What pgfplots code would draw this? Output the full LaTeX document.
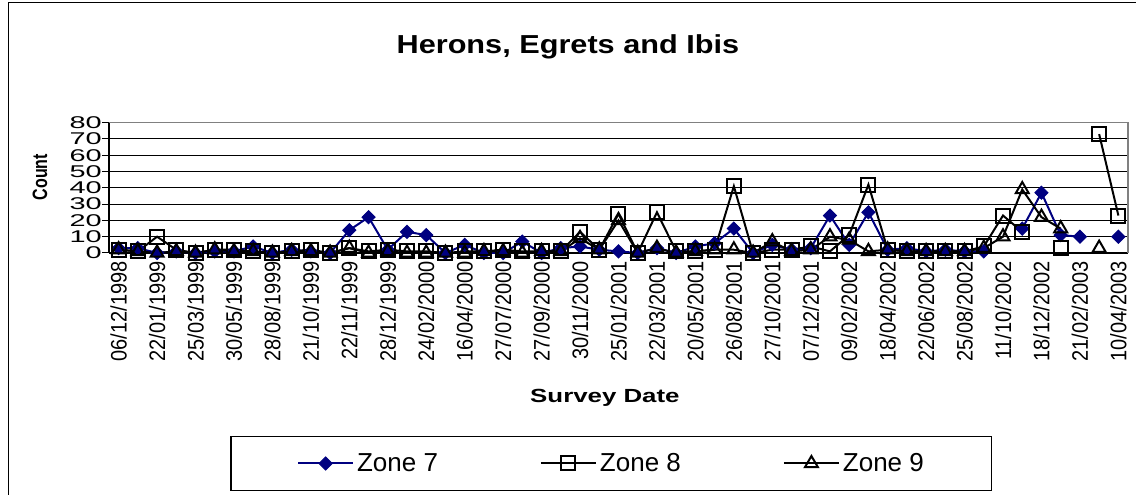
\documentclass[border=0pt]{standalone}
\usepackage{fontspec}
\setmainfont{Liberation Sans}
\usepackage{pgfplots}
\pgfplotsset{compat=1.18}
\definecolor{zoneblue}{RGB}{0,0,128}

\begin{document}
\begin{tikzpicture}
\useasboundingbox (0pt,0pt) rectangle (1136pt,495pt);
% chart area frame (cut at right and bottom in the original)
\draw[line width=1pt] (8pt,0pt) -- (8pt,492pt) -- (1136pt,492pt);
\begin{axis}[
  at={(109pt,242pt)}, anchor=south west,
  scale only axis, width=1019pt, height=130.3pt,
  xmin=-0.5, xmax=52.5, ymin=0, ymax=80,
  clip=false,
  unbounded coords=jump,
  axis x line*=bottom, axis y line*=left,
  axis line style={black, line width=1.2pt},
  tick align=outside,
  major tick length=7pt, minor tick length=7pt,
  every tick/.style={black, line width=1pt},
  ytick={0,10,...,80},
  ymajorgrids,
  major grid style={black, line width=1pt},
  xtick={0,2,...,52},
  xtick style={draw=none},
  minor xtick={-0.5,0.5,...,52.5},
  xticklabels={06/12/1998,22/01/1999,25/03/1999,30/05/1999,28/08/1999,21/10/1999,22/11/1999,28/12/1999,24/02/2000,16/04/2000,27/07/2000,27/09/2000,30/11/2000,25/01/2001,22/03/2001,20/05/2001,26/08/2001,27/10/2001,07/12/2001,09/02/2002,18/04/2002,22/06/2002,25/08/2002,11/10/2002,18/12/2002,21/02/2003,10/04/2003},
  xticklabel style={font=\fontsize{20}{20}\selectfont, rotate=90, yscale=1.12, anchor=east, inner sep=1pt},
  yticklabel style={font=\fontsize{17}{17}\selectfont, xscale=1.7, anchor=east, inner sep=0pt,
    /pgf/number format/assume math mode=true},
  title={Herons, Egrets and Ibis},
  title style={at={(axis description cs:0.4504,1.535)}, anchor=center, yshift=0pt,
    font=\bfseries\fontsize{26}{26}\selectfont, xscale=1.18},
  xlabel={Survey Date},
  xlabel style={at={(axis description cs:0.4867,-1.113)}, anchor=center,
    font=\bfseries\fontsize{19}{19}\selectfont, xscale=1.36},
  ylabel={Count},
  ylabel style={at={(axis description cs:-0.0677,0.583)}, anchor=center,
    font=\bfseries\fontsize{16}{16}\selectfont, yscale=1.3},
  legend columns=3,
  legend image code/.code={\draw[mark repeat=2,mark phase=2] plot coordinates {(0pt,0pt) (27.5pt,0pt) (55pt,0pt)};},
  legend style={at={(axis description cs:0.4931,-1.6155)}, anchor=center,
    draw=black, line width=1.2pt, font=\fontsize{26}{26}\selectfont,
    inner xsep=66pt, inner ysep=15pt,
    nodes={inner sep=2pt},
    /tikz/every odd column/.append style={column sep=1pt},
    /tikz/every even column/.append style={column sep=100pt}},
]
\addplot[color=zoneblue, line width=2pt, mark=square*, mark size=4.6pt,
  mark options={solid, rotate=45, fill=zoneblue, line width=1pt}]
  coordinates {(0,3)(1,3)(2,0)(3,1)(4,0)(5,1)(6,1)(7,4)(8,0)(9,2)(10,1)(11,0)(12,14)(13,22)(14,2)(15,13)(16,11)(17,0)(18,5)(19,0)(20,0)(21,7)(22,0)(23,3)(24,4)(25,2)(26,1)(27,0)(28,3)(29,0)(30,4)(31,6)(32,15)(33,0)(34,5)(35,2)(36,3)(37,23)(38,5)(39,25)(40,2)(41,3)(42,1)(43,2)(44,1)(45,1)(46,nan)(47,15)(48,37)(49,11)(50,10)(51,nan)(52,10)};
\addlegendentry{Zone 7}
\addplot[color=black, line width=2pt, mark=square, mark size=7pt,
  mark options={solid, line width=2pt}]
  coordinates {(0,2)(1,1)(2,10)(3,2)(4,0)(5,2)(6,2)(7,1)(8,0)(9,1)(10,2)(11,0)(12,3)(13,1)(14,2)(15,1)(16,1)(17,0)(18,1)(19,1)(20,2)(21,1)(22,1)(23,1)(24,13)(25,2)(26,24)(27,0)(28,25)(29,1)(30,1)(31,2)(32,41)(33,0)(34,2)(35,2)(36,4)(37,1)(38,11)(39,42)(40,2)(41,1)(42,1)(43,1)(44,1)(45,4)(46,23)(47,13)(48,nan)(49,3)(50,nan)(51,73)(52,23)};
\addlegendentry{Zone 8}
\addplot[color=black, line width=2pt, mark=triangle, mark size=7.5pt,
  mark options={solid, line width=2pt}]
  coordinates {(0,2)(1,1)(2,0)(3,1)(4,0)(5,2)(6,1)(7,1)(8,0)(9,1)(10,1)(11,0)(12,3)(13,0)(14,1)(15,0)(16,0)(17,0)(18,0)(19,1)(20,1)(21,0)(22,1)(23,1)(24,9)(25,2)(26,20)(27,0)(28,3)(29,0)(30,1)(31,2)(32,2)(33,0)(34,7)(35,1)(36,2)(37,10)(38,8)(39,1)(40,2)(41,1)(42,1)(43,1)(44,1)(45,3)(46,10)(47,39)(48,22)(49,15)(50,nan)(51,3)(52,nan)};
\addlegendentry{Zone 9}
% plot-area border, grey on top and right
\draw[gray, line width=1.5pt] (rel axis cs:0,1) -- (rel axis cs:1,1) -- (rel axis cs:1,0);
\end{axis}
\end{tikzpicture}
\end{document}
